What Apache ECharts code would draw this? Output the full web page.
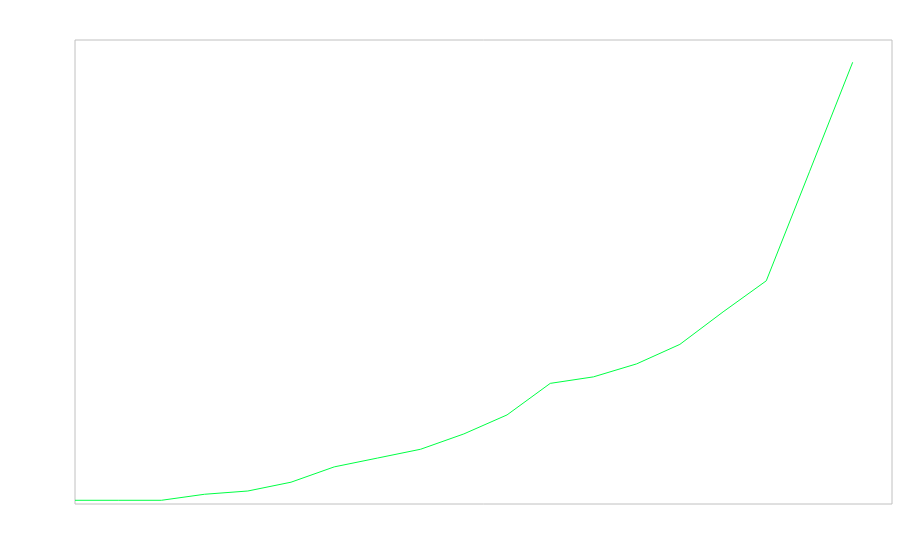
<!DOCTYPE html>
<html>
<head>
<meta charset="utf-8">
<script src="https://cdn.jsdelivr.net/npm/echarts@6/dist/echarts.min.js"></script>
<style>html,body{margin:0;padding:0;background:#fff}#c{width:900px;height:560px}</style>
</head>
<body>
<div id="c"></div>
<script>
var xValues = [0,1,2,3,4,5,6,7,8,9,10,11,12,13,14,15,16,17,18];
var yValues = [8,8,8,21,28,47,80,99,118,151,192,260,274,302,344,414,481,716,952];
var xMax = 18.91;
var yMax = 1000;

var chart = echarts.init(document.getElementById('c'), null, {renderer:'canvas'});
chart.setOption({
  animation: false,
  backgroundColor: '#ffffff',
  grid: {show: true, left: 75, top: 40, right: 8, bottom: 56, borderColor: '#c0c0c0', borderWidth: 1, backgroundColor: 'transparent'},
  xAxis: {type: 'value', min: 0, max: xMax, show: false},
  yAxis: {type: 'value', min: 0, max: yMax, show: false},
  series: [{
    type: 'line',
    data: xValues.map(function(x,i){return [x, yValues[i]];}),
    showSymbol: false,
    lineStyle: {color: '#00ff44', width: 1},
    itemStyle: {color: '#00ff44'}
  }]
});
</script>
</body>
</html>
